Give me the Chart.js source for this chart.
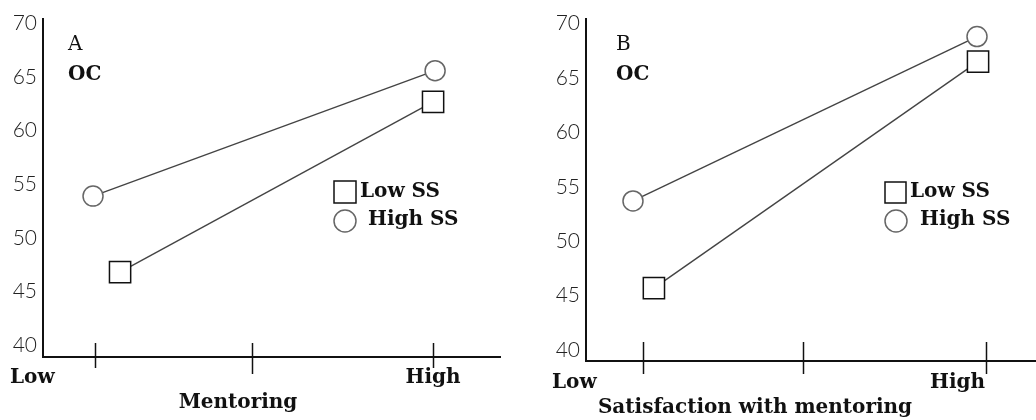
<!DOCTYPE html>
<html>
<head>
<meta charset="utf-8">
<script src="https://cdn.jsdelivr.net/npm/chart.js@4/dist/chart.umd.min.js"></script>
<style>
  html, body { margin: 0; padding: 0; background: #fff; }
  #wrap { position: relative; width: 1036px; height: 420px; overflow: hidden; }
  canvas { position: absolute; top: 0; }
</style>
</head>
<body>
<div id="wrap">
  <canvas id="cA" width="518" height="420" style="left:0"></canvas>
  <canvas id="cB" width="518" height="420" style="left:518px"></canvas>
</div>
<script>
// ---- data ----
const yTicks = [40, 45, 50, 55, 60, 65, 70];
const xTickValues = { A: [0, 0.464, 1], B: [0, 0.466, 1] };
const levelLabels = ['Low', 'High'];
const seriesNames = ['Low SS', 'High SS'];

// panel A (Mentoring)
const A_lowSS_x  = [0.074, 1.0];
const A_lowSS_y  = [46.8, 62.7];
const A_highSS_x = [-0.006, 1.006];
const A_highSS_y = [53.9, 65.6];

// panel B (Satisfaction with mentoring)
const B_lowSS_x  = [0.032, 0.977];
const B_lowSS_y  = [45.7, 66.5];
const B_highSS_x = [-0.029, 0.974];
const B_highSS_y = [53.7, 68.8];

const toPts = (xs, ys) => xs.map((x, i) => ({ x: x, y: ys[i] }));

const serifB = (s) => 'bold ' + s + 'px "DejaVu Serif", serif';
const serifR = (s) => s + 'px "DejaVu Serif", serif';

const overlay = {
  id: 'overlay',
  afterDraw(chart, args, o) {
    const ctx = chart.ctx;
    const xs = chart.scales.x;
    const bottom = chart.chartArea.bottom;
    ctx.save();
    // crossing tick marks on x axis
    ctx.strokeStyle = '#111';
    ctx.lineWidth = 1.5;
    o.ticks.forEach((v, i) => {
      const px = Math.round(xs.getPixelForValue(v)) + 0.5;
      ctx.beginPath();
      ctx.moveTo(px, bottom - o.tickUp);
      ctx.lineTo(px, bottom + (i === 1 ? o.tickDownMid : o.tickDown));
      ctx.stroke();
    });
    // texts
    o.texts.forEach(t => {
      ctx.font = t.font;
      ctx.fillStyle = '#111';
      ctx.textAlign = t.align || 'left';
      ctx.textBaseline = 'alphabetic';
      ctx.fillText(t.text, t.x, t.y);
    });
    // legend markers
    const L = o.legend;
    ctx.lineWidth = 1.5;
    ctx.strokeStyle = '#111';
    ctx.fillStyle = '#fff';
    ctx.beginPath();
    ctx.rect(L.sq.x, L.sq.y, L.sq.s, L.sq.s);
    ctx.fill(); ctx.stroke();
    ctx.strokeStyle = '#666';
    ctx.beginPath();
    ctx.arc(L.ci.x, L.ci.y, L.ci.r, 0, Math.PI * 2);
    ctx.fill(); ctx.stroke();
    ctx.restore();
  }
};

function makeChart(id, lowPts, highPts, cfg) {
  return new Chart(document.getElementById(id), {
    type: 'line',
    data: {
      datasets: [
        {
          label: seriesNames[0],
          data: lowPts,
          borderColor: '#444',
          borderWidth: 1.4,
          pointStyle: 'rect',
          pointRadius: 15,
          pointHoverRadius: 15,
          pointBorderColor: '#111',
          pointBorderWidth: 1.5,
          pointBackgroundColor: '#fff',
          clip: false
        },
        {
          label: seriesNames[1],
          data: highPts,
          borderColor: '#444',
          borderWidth: 1.4,
          pointStyle: 'circle',
          pointRadius: 10,
          pointHoverRadius: 10,
          pointBorderColor: '#666',
          pointBorderWidth: 1.5,
          pointBackgroundColor: '#fff',
          clip: false
        }
      ]
    },
    options: {
      responsive: false,
      animation: false,
      layout: { autoPadding: false, padding: { left: 0, right: cfg.padRight, top: 15, bottom: 0 } },
      plugins: {
        legend: { display: false },
        tooltip: { enabled: false },
        overlay: cfg.overlay
      },
      scales: {
        x: {
          type: 'linear',
          min: cfg.xMin, max: cfg.xMax,
          grid: { display: false },
          border: { display: true, color: '#111', width: 2 },
          ticks: { display: false },
          afterFit: s => { s.height = cfg.xHeight; }
        },
        y: {
          type: 'linear',
          min: cfg.yMin, max: cfg.yMax,
          afterBuildTicks: s => { s.ticks = yTicks.map(v => ({ value: v })); },
          grid: { display: false, drawTicks: false },
          border: { display: true, color: '#111', width: 2 },
          ticks: {
            padding: 6,
            color: '#222',
            font: { family: 'Lato', weight: '300', size: 21 }
          },
          afterFit: s => { s.width = cfg.yWidth; }
        }
      }
    },
    plugins: [overlay]
  });
}

makeChart('cA', toPts(A_lowSS_x, A_lowSS_y), toPts(A_highSS_x, A_highSS_y), {
  padRight: 18, xMin: -0.154, xMax: 1.198, yMin: 38.89, yMax: 70.46,
  xHeight: 63, yWidth: 43,
  overlay: {
    ticks: xTickValues.A, tickUp: 14, tickDown: 11, tickDownMid: 17,
    texts: [
      { text: 'A', x: 68, y: 50, font: serifR(20) },
      { text: 'OC', x: 68, y: 80, font: serifB(20) },
      { text: levelLabels[0], x: 10, y: 383, font: serifB(20) },
      { text: levelLabels[1], x: 433, y: 383, font: serifB(20), align: 'center' },
      { text: 'Mentoring', x: 238, y: 408, font: serifB(20), align: 'center' },
      { text: seriesNames[0], x: 360, y: 197, font: serifB(20) },
      { text: seriesNames[1], x: 368, y: 225, font: serifB(20) }
    ],
    legend: { sq: { x: 334, y: 181, s: 22 }, ci: { x: 345, y: 221, r: 11 } }
  }
});

makeChart('cB', toPts(B_lowSS_x, B_lowSS_y), toPts(B_highSS_x, B_highSS_y), {
  padRight: 0, xMin: -0.166, xMax: 1.146, yMin: 39.0, yMax: 70.45,
  xHeight: 59, yWidth: 68,
  overlay: {
    ticks: xTickValues.B, tickUp: 19, tickDown: 13, tickDownMid: 13,
    texts: [
      { text: 'B', x: 98, y: 50, font: serifR(20) },
      { text: 'OC', x: 98, y: 80, font: serifB(20) },
      { text: levelLabels[0], x: 34, y: 388, font: serifB(20) },
      { text: levelLabels[1], x: 467, y: 388, font: serifB(20), align: 'right' },
      { text: 'Satisfaction with mentoring', x: 237, y: 413, font: serifB(20), align: 'center' },
      { text: seriesNames[0], x: 392, y: 197, font: serifB(20) },
      { text: seriesNames[1], x: 402, y: 225, font: serifB(20) }
    ],
    legend: { sq: { x: 367, y: 182, s: 21 }, ci: { x: 378, y: 221, r: 11 } }
  }
});
</script>
</body>
</html>
